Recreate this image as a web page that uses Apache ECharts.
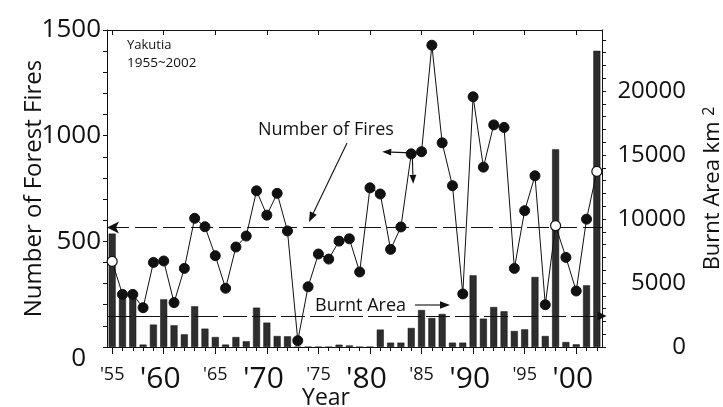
<!DOCTYPE html>
<html><head><meta charset="utf-8">
<script src="https://cdn.jsdelivr.net/npm/echarts@6/dist/echarts.min.js"></script>
<style>html,body{margin:0;padding:0;background:#fff}#c{width:723px;height:407px}</style>
</head><body><div id="c"></div>
<script>
// ---- data ----
const years = ['1955','1956','1957','1958','1959','1960','1961','1962','1963','1964',
  '1965','1966','1967','1968','1969','1970','1971','1972','1973','1974',
  '1975','1976','1977','1978','1979','1980','1981','1982','1983','1984',
  '1985','1986','1987','1988','1989','1990','1991','1992','1993','1994',
  '1995','1996','1997','1998','1999','2000','2001','2002'];
const fires = [405,249,249,186,400,407,210,372,609,569,
  432,278,473,525,739,624,727,549,30,285,
  440,416,501,512,355,753,724,462,568,914,
  924,1428,966,763,251,1184,851,1051,1039,372,
  645,810,200,574,424,265,605,831];
const burntArea = [8860,4000,3950,190,1750,3725,1695,990,3180,1435,
  780,190,780,445,3075,1905,860,835,0,0,
  0,0,180,120,0,0,1360,340,340,1485,
  2890,2265,2580,340,340,5600,2215,3125,2790,1250,
  1380,5470,860,15440,390,210,4820,23140];
const openYears = ['1955','1998','2002'];
const smallLabelYears = ['1955','1965','1975','1985','1995'];
const bigLabelYears = ['1960','1970','1980','1990','2000'];
const leftLabelValues = [0,500,1000,1500];
const rightLabelValues = [0,5000,10000,15000,20000];
const meanFires = 565;
const meanBurnt = 2420;

const FF = "'Open Sans','Noto Sans',sans-serif";
const INK = '#111';

const chart = echarts.init(document.getElementById('c'), null, {renderer:'canvas'});

const fireData = fires.map((v,i)=> openYears.includes(years[i])
  ? {value:v, itemStyle:{color:'#fff', borderColor:INK, borderWidth:1.2}}
  : v);

const option = {
  backgroundColor:'#fff',
  animation:false,
  grid:{left:107, right:121, top:30, bottom:60, containLabel:false, outerBoundsMode:'none'},
  xAxis:[
    {type:'category', data:years, position:'bottom', boundaryGap:true,
     axisLine:{show:true, lineStyle:{color:INK, width:1}},
     axisTick:{show:true, alignWithLabel:true, interval:0, length:4, lineStyle:{color:INK}},
     splitLine:{show:false},
     axisLabel:{interval:0, margin:17, color:INK, fontFamily:FF,
       formatter:(v)=>{
         const t = "'" + v.slice(2);
         if (smallLabelYears.includes(v)) return '{s|'+t+'}';
         if (bigLabelYears.includes(v)) return '{b|'+t+'}';
         return '';
       },
       rich:{ s:{fontSize:18, fontFamily:FF, color:INK, padding:[2,0,0,0]},
              b:{fontSize:30, fontFamily:FF, color:INK, padding:[0,7,0,0]} }},
     name:'Year', nameLocation:'middle', nameGap:40, nameMoveOverlap:false,
     nameTextStyle:{fontSize:23, fontFamily:FF, color:INK, padding:[0,57,0,0]}},
    {type:'category', data:years, position:'bottom', boundaryGap:true,
     axisLine:{show:false},
     axisTick:{show:true, alignWithLabel:true, interval:4, length:7, lineStyle:{color:INK}},
     axisLabel:{show:false}, splitLine:{show:false}},
    {type:'category', data:years, position:'top', boundaryGap:true,
     axisLine:{show:true, lineStyle:{color:INK, width:1}},
     axisTick:{show:true, inside:true, alignWithLabel:true, interval:4, length:5, lineStyle:{color:INK}},
     axisLabel:{show:false}, splitLine:{show:false}}
  ],
  yAxis:[
    {type:'value', min:0, max:1500, interval:100, position:'left',
     axisLine:{show:true, lineStyle:{color:INK, width:1}},
     axisTick:{show:true, length:4, lineStyle:{color:INK}},
     splitLine:{show:false},
     axisLabel:{margin:6, color:INK, fontSize:26, fontFamily:FF,
       formatter:(v)=> leftLabelValues.includes(v) ? (v===0 ? '{z|0}' : String(v)) : '',
       rich:{z:{fontSize:26, fontFamily:FF, color:INK, padding:[24,15,0,0]}}},
     name:'Number of Forest Fires', nameLocation:'middle', nameGap:61, nameRotate:90, nameMoveOverlap:false,
     nameTextStyle:{fontSize:24, fontFamily:FF, color:INK}},
    {type:'value', min:0, max:24766, interval:1000, position:'right',
     axisLine:{show:true, lineStyle:{color:INK, width:1}},
     axisTick:{show:true, length:4, lineStyle:{color:INK}},
     splitLine:{show:false},
     axisLabel:{margin:84, align:'right', color:INK, fontSize:24, fontFamily:FF, showMaxLabel:false,
       formatter:(v)=> rightLabelValues.includes(v) ? String(v) : ''},
     name:'Burnt Area km {sup|2}', nameLocation:'middle', nameGap:99, nameRotate:90, nameMoveOverlap:false,
     nameTextStyle:{fontSize:22, fontFamily:FF, color:INK,
       rich:{sup:{fontSize:16, fontFamily:FF, color:INK, padding:[0,0,8,0]}}}}
  ],
  series:[
    {type:'bar', name:'Burnt Area', xAxisIndex:0, yAxisIndex:1, data:burntArea,
     barWidth:7, itemStyle:{color:'#2e2e2e', borderColor:'#111', borderWidth:0.5},
     markLine:{silent:true, symbol:['none','triangle'], symbolSize:[9,9],
       label:{show:false}, lineStyle:{color:INK, width:1.2, type:[24,5]},
       data:[{yAxis:meanBurnt}]}},
    {type:'line', name:'Number of Fires', xAxisIndex:0, yAxisIndex:0, data:fireData,
     symbol:'circle', symbolSize:10, showAllSymbol:true,
     lineStyle:{color:INK, width:1}, itemStyle:{color:INK, borderColor:INK, borderWidth:1}, z:5,
     markLine:{silent:true, symbol:['arrow','none'], symbolSize:[9,12],
       label:{show:false}, lineStyle:{color:INK, width:1.2, type:[22,6]},
       data:[{yAxis:meanFires}]}}
  ]
};
chart.setOption(option);

function arrow(x1,y1,x2,y2,head){
  head = head || 9;
  const a = Math.atan2(y2-y1, x2-x1);
  const w = head*0.38;
  const bx = x2 - head*Math.cos(a), by = y2 - head*Math.sin(a);
  return [
    {type:'line', silent:true, shape:{x1:x1,y1:y1,x2:bx,y2:by}, style:{stroke:INK, lineWidth:1.1}, z:20},
    {type:'polygon', silent:true, shape:{points:[[x2,y2],[bx - w*Math.sin(a), by + w*Math.cos(a)],[bx + w*Math.sin(a), by - w*Math.cos(a)]]},
     style:{fill:INK}, z:20}
  ];
}
const i84 = years.indexOf('1984');
const p84 = chart.convertToPixel({xAxisIndex:0, yAxisIndex:0}, [i84, fires[i84]]);

const g = [
  {type:'text', x:127, y:45, silent:true, style:{text:'Yakutia', fontSize:13, fontFamily:FF, fill:INK, verticalAlign:'middle'}, z:20},
  {type:'text', x:127, y:63, silent:true, style:{text:'1955~2002', fontSize:13.5, fontFamily:FF, fill:INK, verticalAlign:'middle'}, z:20},
  {type:'text', x:258, y:130, silent:true, style:{text:'Number of Fires', fontSize:18, fontFamily:FF, fill:INK, verticalAlign:'middle'}, z:20},
  {type:'text', x:315, y:306, silent:true, style:{text:'Burnt Area', fontSize:18, fontFamily:FF, fill:INK, verticalAlign:'middle', backgroundColor:'#fff'}, z:20}
].concat(
  arrow(347,143,309,222,10),
  arrow(415,305,450,305,10),
  arrow(p84[0],p84[1]-1,p84[0]-29,p84[1]-2,9),
  arrow(p84[0]+1,p84[1],p84[0]+2,p84[1]+30,9)
);
chart.setOption({graphic:{elements:g}});
</script></body></html>
